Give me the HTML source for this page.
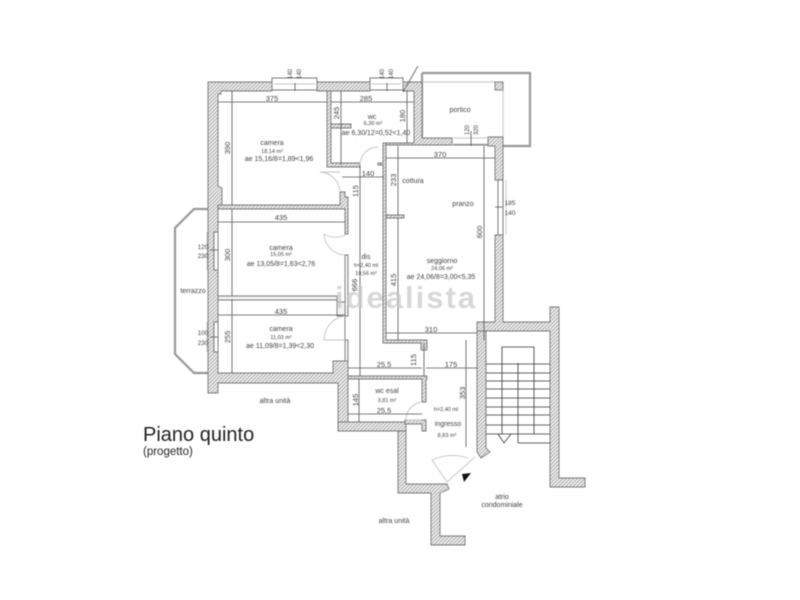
<!DOCTYPE html>
<html><head><meta charset="utf-8"><style>
html,body{margin:0;padding:0;background:#fff}
svg{display:block;filter:blur(.5px)}
text{font-family:"Liberation Sans",sans-serif;fill:#444;text-anchor:middle;font-size:6.5px}
.d{font-size:7.5px}
.l{font-size:7px}
.w{fill:url(#h);stroke:#777;stroke-width:.9}
.g{fill:none;stroke:#999;stroke-width:2.2}
.t{fill:none;stroke:#555;stroke-width:.8}
.s{fill:none;stroke:#c4c4c4;stroke-width:.9}
.i{fill:none;stroke:#777;stroke-width:1}
</style></head><body>
<svg width="800" height="600" viewBox="0 0 800 600" xmlns="http://www.w3.org/2000/svg">
<defs><pattern id="h" width="2.6" height="2.6" patternUnits="userSpaceOnUse" patternTransform="rotate(45)"><rect width="2.6" height="2.6" fill="#ededed"/><rect width=".9" height="2.6" fill="#aaa"/></pattern></defs>
<rect width="800" height="600" fill="#fff"/>

<!-- terrace + portico -->
<path class="g" d="M208 209H194L175 228V354L194 373H208"/>
<path class="g" d="M422 73H530V146H503"/>
<path class="g" d="M422 73V138"/>
<path class="s" d="M422 82H495M503 90V137"/>
<rect x="495" y="82" width="8" height="8" class="w"/>

<!-- outer walls -->
<path class="w" d="M208 82H272V91H221V94H218V186L222 188V205H218V232H214V270H218V322H214V352H218V373H333V361H348V431H338V383H218V393H208Z"/>
<path class="w" d="M317 82H370V91H317Z"/>
<path class="w" d="M403 82H422V138H452V145H386V143H414V91H403Z"/>
<path class="w" d="M488 137H503V180H495V146H488Z"/>
<path class="w" d="M495 235H503V322H550V307H559V478H585V487H550V331H486V448L490 452L481 458L477 452V331H486V331H477V322H495Z"/>
<path class="w" d="M338 422H406V431H347H338Z"/>
<path class="w" d="M398 431H406V484H447L449 489L440 493V536H465V545H431V493H398Z"/>

<!-- windows -->
<path class="i" d="M272 82V78H317V82M272 90H317M370 82V78H403V82M370 90H403"/>
<path class="s" d="M274 84H315M372 84H401M453 138H488M453 144H488"/>
<path class="i" d="M453 145H488"/>
<path class="t" d="M295 83V91M387 83V91M471 131V146"/>
<path class="i" d="M498 180V235M503 180V235"/>
<path class="s" d="M506 180V235"/>
<path class="i" d="M214 232V270M218 232V270M214 322V352M218 322V352"/>
<path class="s" d="M207 232V270M207 322V352"/>
<path d="M403 92L418 66" class="t"/>

<!-- inner walls -->
<path class="w" d="M327 91H331V163H360V167H327Z"/>
<path class="w" d="M331 124H351V128H331Z"/>
<path class="w" d="M378 163H383V143H386V340H427V350H421V343H383V165H378Z"/>
<path class="w" d="M218 205H340V192H345V197H348V234H345V209H218Z"/>
<path class="w" d="M345 255H348V316H345V302H337V296H218V300H337V316H345V340H348V361H345Z" style="fill:#f2f2f2"/>
<path class="w" d="M348 376H427V379H426V402H422V379H348Z"/>
<path class="w" d="M405 420H426V431H422V424H405Z"/>
<path class="w" d="M386 215H404V218H386Z"/>

<!-- doors -->
<path class="s" d="M360 165A18 18 0 0 1 378 147"/>
<path class="s" d="M340 192A21 21 0 0 0 320 172H340"/>
<path class="s" d="M345 235A22 22 0 0 1 324 234M345 255A22 22 0 0 1 324 234"/>
<path class="s" d="M345 316A24 24 0 0 0 324 340H345"/>
<path class="s" d="M422 402A18 18 0 0 0 406 420H422"/>
<path class="s" d="M432 460A50 50 0 0 1 468 458M432 460L447 482L475 457"/>
<path d="M462 474L471 473L464 482Z" fill="#111"/>

<!-- stairs -->
<g class="t" style="stroke:#333">
<path d="M502 434V347H534V434M518 363V443"/>
<path d="M486 364H550M486 373H550M486 381H550M486 389H550M486 398H550M486 407H550M486 415H550M486 425H550M486 434H550M518 443H550"/>
<path d="M498 434L504 443L511 434"/>
</g>

<!-- dimensions -->
<g class="t">
<path d="M218 102H327M331 102H414M232 91V205M341 91V165M407 91V143M342 177H384M360 165V376"/>
<path d="M218 222H345M218 315H345M232 209V296M232 299V373"/>
<path d="M386 158H495M398 146V215M484 146V340M398 218V340M386 333H477"/>
<path d="M348 368H422M426 368H477M424 343V376M466 340V447M359 379V422M348 414H422"/>
<path d="M210 250H218M210 337H218M495 207H503"/>
</g>

<!-- dim labels -->
<text class="d" x="272" y="101">375</text>
<text class="d" x="366" y="101">285</text>
<text class="d" x="440" y="157">370</text>
<text class="d" x="368" y="176">140</text>
<text class="d" x="281" y="220">435</text>
<text class="d" x="281" y="314">435</text>
<text class="d" x="431" y="332">310</text>
<text class="d" x="384" y="367">25,5</text>
<text class="d" x="451" y="367">175</text>
<text class="d" x="384" y="413">25,5</text>
<text class="d" transform="translate(230,148) rotate(-90)">390</text>
<text class="d" transform="translate(230,255) rotate(-90)">300</text>
<text class="d" transform="translate(230,337) rotate(-90)">255</text>
<text class="d" transform="translate(339,113) rotate(-90)">245</text>
<text class="d" transform="translate(405,116) rotate(-90)">180</text>
<text class="d" transform="translate(358,191) rotate(-90)">115</text>
<text class="d" transform="translate(357,285) rotate(-90)">666</text>
<text class="d" transform="translate(396,180) rotate(-90)">233</text>
<text class="d" transform="translate(482,232) rotate(-90)">600</text>
<text class="d" transform="translate(396,280) rotate(-90)">415</text>
<text class="d" transform="translate(416,360) rotate(-90)">115</text>
<text class="d" transform="translate(465,393) rotate(-90)">353</text>
<text class="d" transform="translate(358,400) rotate(-90)">145</text>
<text x="0" y="0" transform="translate(292,74) rotate(-90)" style="font-size:6px">140</text>
<text transform="translate(301,74) rotate(-90)" style="font-size:6px">140</text>
<text transform="translate(384,74) rotate(-90)" style="font-size:6px">140</text>
<text transform="translate(393,74) rotate(-90)" style="font-size:6px">140</text>
<text transform="translate(469,130) rotate(-90)" style="font-size:6px">120</text>
<text transform="translate(478,130) rotate(-90)" style="font-size:6px">320</text>
<text x="203" y="249">120</text><text x="203" y="258">230</text>
<text x="203" y="335">100</text><text x="203" y="345">230</text>
<text x="510" y="205">185</text><text x="510" y="215">140</text>

<!-- room labels -->
<text class="l" x="272" y="145">camera</text>
<text x="272" y="153" style="font-size:5.5px">18,14 m²</text>
<text class="l" x="279" y="161">ae 15,16/8=1,89&lt;1,96</text>
<text class="l" x="372" y="119">wc</text>
<text x="373" y="125" style="font-size:5.5px">6,30 m²</text>
<text class="l" x="376" y="135">ae 6,30/12=0,52&lt;1,40</text>
<text class="l" x="281" y="250">camera</text>
<text x="281" y="256" style="font-size:5.5px">15,05 m²</text>
<text class="l" x="281" y="266">ae 13,05/8=1,63&lt;2,76</text>
<text class="l" x="281" y="331">camera</text>
<text x="281" y="339" style="font-size:5.5px">11,03 m²</text>
<text class="l" x="280" y="348">ae 11,09/8=1,39&lt;2,30</text>
<text class="l" x="193" y="293">terrazzo</text>
<text class="l" x="275" y="403">altra unità</text>
<text class="l" x="460" y="112">portico</text>
<text class="l" x="413" y="183">cottura</text>
<text class="l" x="463" y="206">pranzo</text>
<text class="l" x="442" y="263">seggiorno</text>
<text x="442" y="270" style="font-size:5.5px">24,06 m²</text>
<text class="l" x="441" y="279">ae 24,06/8=3,00&lt;5,35</text>
<text class="l" x="366" y="259">dis</text>
<text x="366" y="267" style="font-size:5.5px">h=2,40 ml</text>
<text x="366" y="275" style="font-size:5.5px">10,56 m²</text>
<text class="l" x="387" y="393">wc esal</text>
<text x="387" y="402" style="font-size:5.5px">3,81 m²</text>
<text x="446" y="411" style="font-size:5.5px">h=2,40 ml</text>
<text class="l" x="448" y="426">ingresso</text>
<text x="447" y="437" style="font-size:5.5px">8,83 m²</text>
<text class="l" x="502" y="499">atrio</text>
<text class="l" x="502" y="507">condominiale</text>
<text class="l" x="394" y="523">altra unità</text>

<!-- titles -->
<text x="143" y="441" style="text-anchor:start;font-size:20px;fill:#222">Piano quinto</text>
<text x="143" y="455" style="text-anchor:start;font-size:11.5px;fill:#222">(progetto)</text>

<!-- watermark -->
<text x="405" y="308" textLength="140" lengthAdjust="spacing" style="font-size:31px;font-weight:bold;fill:#c8c8c8;fill-opacity:.7">idealista</text>
</svg>
</body></html>
